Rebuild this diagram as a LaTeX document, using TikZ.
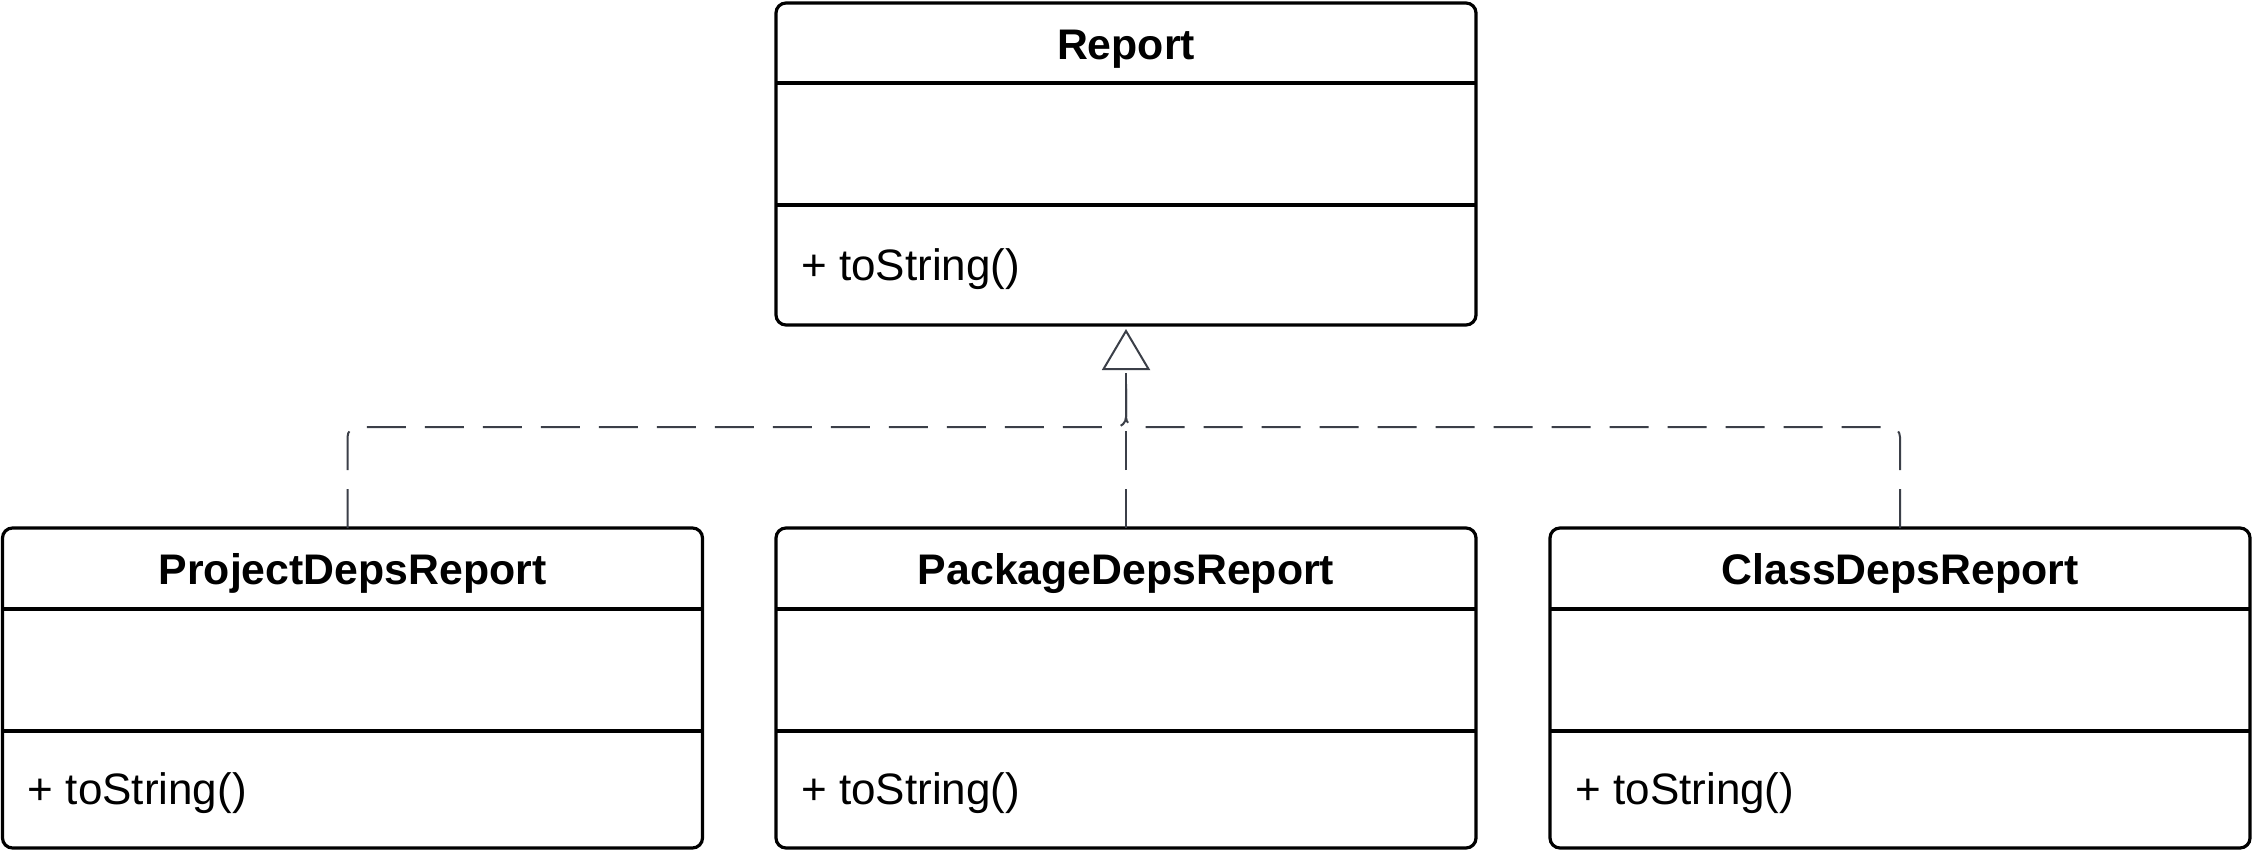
\documentclass[tikz,border=0pt]{standalone}
\usepackage{fontspec}
\setmainfont{Liberation Sans}
\usetikzlibrary{calc,arrows.meta}
\definecolor{edgecol}{HTML}{3B3F48}
\begin{document}
\begin{tikzpicture}[x=0.5pt,y=-0.5pt,
  classbox/.style={draw=black, line width=1.6pt, rounded corners=5pt, fill=white,
    minimum width=350pt, minimum height=#1, inner sep=0pt, outer sep=0pt, anchor=north west},
  classtitle/.style={font=\fontsize{21.4pt}{25pt}\selectfont\bfseries, anchor=base, inner sep=0pt},
  classmethod/.style={font=\fontsize{22pt}{26pt}\selectfont, anchor=base west, inner sep=0pt},
  divider/.style={draw=black, line width=1.6pt},
  realize/.style={draw=edgecol, line width=1pt, dash pattern=on 19.5pt off 9.5pt, rounded corners=5pt},
]
\useasboundingbox (0,0) rectangle (2252,851);

% boxes
\node[classbox=161pt] (report) at (776,3) {};
\node[classbox=160pt] (pleft) at (2.5,528) {};
\node[classbox=160pt] (pmid) at (776,528) {};
\node[classbox=160pt] (pright) at (1550,528) {};

% Report contents
\node[classtitle] (reportT) at ($(report.north)+(0,56)$) {Report};
\draw[divider] ($(report.north west)+(0,80)$) -- ($(report.north east)+(0,80)$);
\draw[divider] ($(report.north west)+(0,202)$) -- ($(report.north east)+(0,202)$);
\node[classmethod] (reportM) at ($(report.north west)+(25,277)$) {+ toString()};

% ProjectDepsReport
\node[classtitle] (pleftT) at ($(pleft.north)+(0,56)$) {ProjectDepsReport};
\draw[divider] ($(pleft.north west)+(0,81)$) -- ($(pleft.north east)+(0,81)$);
\draw[divider] ($(pleft.north west)+(0,203)$) -- ($(pleft.north east)+(0,203)$);
\node[classmethod] (pleftM) at ($(pleft.north west)+(25,276)$) {+ toString()};

% PackageDepsReport
\node[classtitle] (pmidT) at ($(pmid.north)+(0,56)$) {PackageDepsReport};
\draw[divider] ($(pmid.north west)+(0,81)$) -- ($(pmid.north east)+(0,81)$);
\draw[divider] ($(pmid.north west)+(0,203)$) -- ($(pmid.north east)+(0,203)$);
\node[classmethod] (pmidM) at ($(pmid.north west)+(25,276)$) {+ toString()};

% ClassDepsReport
\node[classtitle] (prightT) at ($(pright.north)+(0,56)$) {ClassDepsReport};
\draw[divider] ($(pright.north west)+(0,81)$) -- ($(pright.north east)+(0,81)$);
\draw[divider] ($(pright.north west)+(0,203)$) -- ($(pright.north east)+(0,203)$);
\node[classmethod] (prightM) at ($(pright.north west)+(25,276)$) {+ toString()};

% connectors
\coordinate (join) at ($(report.south)+(0,102)$);
\coordinate (tipbase) at ($(report.south)+(0,45)$);
\draw[realize] ($(pleft.north)+(-5,0)$) |- (join) -- (tipbase);
\draw[realize] (pright.north) |- (join) -- (tipbase);
\draw[realize, shorten >=2pt, -{Triangle[open, length=20.5pt, width=24pt]}] (pmid.north) -- (report.south);
\end{tikzpicture}
\end{document}
